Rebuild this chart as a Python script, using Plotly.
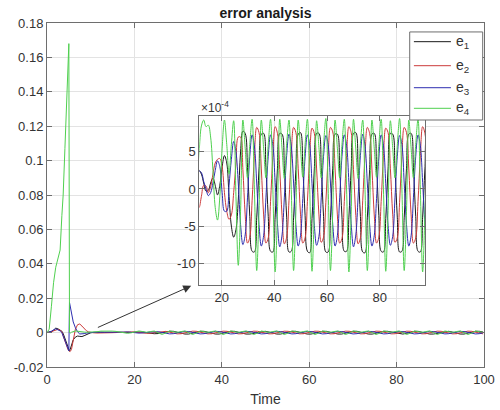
import plotly.graph_objects as go

# ---------------- data ----------------
# early transient (raw units)
t_early = [0.0, 0.5, 1.0, 1.5, 2.0, 2.5, 3.0, 3.4, 3.7, 4.1, 4.5, 4.8, 5.0, 5.15, 5.3,
           5.6, 6.0, 6.5, 7.0, 7.5, 8.0, 8.5, 9.0, 9.5, 10.0]
e1_early = [0.0, 0.0001, 0.0006, 0.0014, 0.0026, 0.0022, 0.0012, 0.0008, -0.0005, -0.0035,
            -0.0072, -0.0095, -0.0108, -0.0108, -0.0098, -0.0072, -0.0042, -0.0026, -0.002,
            -0.0022, -0.0023, -0.0018, -0.0011, -0.0005, -0.0001]
e2_early = [0.0, 0.0, 0.0004, 0.001, 0.0015, 0.0019, 0.0014, 0.0005, -0.002, -0.005,
            -0.0082, -0.0098, -0.0105, -0.011, -0.011, -0.0098, -0.0045, 0.002, 0.0046,
            0.005, 0.0038, 0.0022, 0.0011, 0.0004, 0.0001]
e3_early = [0.0, 0.0002, 0.0008, 0.0016, 0.0022, 0.0016, 0.001, 0.0, -0.002, -0.005,
            -0.0078, -0.0095, -0.0106, 0.0175, 0.0155, 0.0105, 0.0062, 0.0028, 0.0004,
            -0.0008, -0.0009, -0.0006, -0.0003, -0.0001, 0.0]
e4_early = [0.0, 0.002, 0.015, 0.029, 0.038, 0.043, 0.048, 0.068, 0.080, 0.107, 0.134,
            0.154, 0.168, 0.0, -0.0003, 0.0002, 0.0006, 0.001, 0.0008, 0.0005, 0.0004,
            0.0003, 0.0002, 0.0002, 0.0001]

# oscillating part (values in units of 1e-4)
t_osc = [10.55, 11.425, 12.3, 13.175, 14.05, 14.925, 15.8, 16.675, 17.55, 18.425, 19.3,
         20.175, 21.05, 21.925, 22.8, 23.675, 24.55, 25.425, 26.3, 27.175, 28.05, 28.925,
         29.8, 30.675, 31.55, 32.425,
         33.3, 34.175, 35.05, 35.925, 36.8, 37.675, 38.55, 39.425,
         40.3, 41.175, 42.05, 42.925, 43.8, 44.675, 45.55, 46.425,
         47.3, 48.175, 49.05, 49.925, 50.8, 51.675, 52.55, 53.425,
         54.3, 55.175, 56.05, 56.925, 57.8, 58.675, 59.55, 60.425,
         61.3, 62.175, 63.05, 63.925, 64.8, 65.675, 66.55, 67.425,
         68.3, 69.175, 70.05, 70.925, 71.8, 72.675, 73.55, 74.425,
         75.3, 76.175, 77.05, 77.925, 78.8, 79.675, 80.55, 81.425,
         82.3, 83.175, 84.05, 84.925, 85.8, 86.675, 87.55, 88.425,
         89.3, 90.175, 91.05, 91.925, 92.8, 93.675, 94.55, 95.425,
         96.3, 97.175, 98.05, 98.925, 99.8]
e1_osc = [1.0, 2.5, 2.0, 0.8, -0.3, -0.2, 0.8, 1.5, 0.5, -0.8, 0.5, 3.0, 4.5, 3.5, -1.0,
          -5.0, -6.5, -5.5, -1.5, 5.0, 7.8, 7.5, 2.9, -3.7, -8.4, -8.5,
          -3.9, 2.7, 7.4, 7.5, 2.9, -3.7, -8.4, -8.5,
          -3.8, 2.8, 7.5, 7.4, 2.8, -3.8, -8.5, -8.4,
          -3.9, 2.6, 7.4, 7.6, 3.0, -3.6, -8.4, -8.6,
          -4.0, 2.7, 7.5, 7.5, 2.9, -3.7, -8.5, -8.5,
          -3.9, 2.8, 7.4, 7.4, 2.8, -3.8, -8.4, -8.4,
          -3.8, 2.7, 7.5, 7.6, 2.9, -3.7, -8.5, -8.6,
          -3.9, 2.6, 7.4, 7.5, 3.0, -3.6, -8.4, -8.5,
          -4.0, 2.7, 7.5, 7.4, 2.8, -3.8, -8.5, -8.4,
          -3.9, 2.8, 7.4, 7.5, 2.9, -3.7, -8.4, -8.5,
          -3.8, 2.7, 7.5, 7.5, 2.9]
e2_osc = [-1.0, -2.5, -1.0, 0.5, 0.4, -0.5, 0.3, 2.0, 3.5, 4.0, 4.1, 3.0, -0.5, -3.0, -4.1,
          -3.5, -0.5, 3.5, 7.0, 7.0, 2.6, -3.5, -7.3, -6.5, -1.6, 4.5,
          8.3, 7.6, 2.7, -3.5, -7.3, -6.6, -1.7, 4.5,
          8.4, 7.5, 2.6, -3.6, -7.4, -6.5, -1.6, 4.6,
          8.3, 7.6, 2.8, -3.4, -7.3, -6.6, -1.7, 4.5,
          8.2, 7.5, 2.7, -3.5, -7.2, -6.5, -1.8, 4.4,
          8.3, 7.7, 2.7, -3.5, -7.3, -6.7, -1.7, 4.5,
          8.4, 7.6, 2.6, -3.6, -7.4, -6.6, -1.6, 4.6,
          8.3, 7.5, 2.7, -3.5, -7.3, -6.5, -1.7, 4.5,
          8.2, 7.6, 2.8, -3.4, -7.2, -6.6, -1.8, 4.4,
          8.3, 7.6, 2.7, -3.5, -7.3, -6.6, -1.7, 4.5,
          8.4, 7.5, 2.6, -3.6, -7.4]
e3_osc = [1.0, 2.4, 2.2, 1.0, 0.0, -0.9, -0.5, 0.8, 2.5, 3.8, 3.0, -0.5, -3.0, -3.0, 0.5,
          4.0, 6.4, 5.0, 0.8, -4.8, -7.5, -6.2, -1.2, 4.4, 7.3, 5.8,
          0.8, -4.8, -7.7, -6.3, -1.2, 4.4, 7.3, 5.9,
          0.9, -4.7, -7.8, -6.2, -1.1, 4.5, 7.4, 5.8,
          0.8, -4.8, -7.7, -6.3, -1.3, 4.3, 7.3, 5.9,
          0.7, -4.9, -7.6, -6.4, -1.2, 4.4, 7.2, 6.0,
          0.8, -4.8, -7.7, -6.3, -1.2, 4.4, 7.3, 5.9,
          0.9, -4.7, -7.8, -6.2, -1.1, 4.5, 7.4, 5.8,
          0.8, -4.8, -7.7, -6.3, -1.3, 4.3, 7.3, 5.9,
          0.7, -4.9, -7.6, -6.4, -1.2, 4.4, 7.2, 6.0,
          0.8, -4.8, -7.7, -6.3, -1.2, 4.4, 7.3, 5.9,
          0.9, -4.7, -7.8, -6.2, -1.1]
e4_osc = [1.5, 5.0, 8.5, 9.3, 8.4, 8.6, 7.0, 2.5, -2.5, -4.2, -1.0, 5.5, 9.3, 6.0, 2.0,
          6.0, 9.2, -1.0, -10.3, -3.0, 9.3, 5.5, 1.5, 6.0, 9.4, 0.0,
          -11.0, -3.0, 9.3, 5.5, 1.5, 6.0, 9.4, 0.0,
          -11.2, -3.1, 9.4, 5.4, 1.4, 6.1, 9.3, -0.1,
          -11.0, -3.0, 9.3, 5.5, 1.6, 6.0, 9.4, 0.0,
          -11.1, -2.9, 9.2, 5.6, 1.5, 5.9, 9.5, 0.1,
          -11.0, -3.0, 9.3, 5.5, 1.5, 6.0, 9.4, 0.0,
          -11.2, -3.1, 9.4, 5.4, 1.4, 6.1, 9.3, -0.1,
          -11.0, -3.0, 9.3, 5.5, 1.6, 6.0, 9.4, 0.0,
          -11.1, -2.9, 9.2, 5.6, 1.5, 5.9, 9.5, 0.1,
          -11.0, -3.0, 9.3, 5.5, 1.5, 6.0, 9.4, 0.0,
          -11.2, -3.1, 9.4, 5.4, 1.4]

series_names = ["e<sub>1</sub>", "e<sub>2</sub>", "e<sub>3</sub>", "e<sub>4</sub>"]
series_colors = ["#1a1a1a", "#cc3b3b", "#2e2eb0", "#4fd04f"]

main_xticks = [0, 20, 40, 60, 80, 100]
main_yticks = [-0.02, 0, 0.02, 0.04, 0.06, 0.08, 0.1, 0.12, 0.14, 0.16, 0.18]
main_yticktext = ["-0.02", "0", "0.02", "0.04", "0.06", "0.08", "0.1", "0.12", "0.14",
                  "0.16", "0.18"]
inset_xticks = [20, 40, 60, 80]
inset_yticks = [-10, -5, 0, 5]
inset_yticktext = ["-10", "-5", "0", "5"]
SCALE = 1e-4

# ---------------- build ----------------
t_all = t_early + t_osc
early = [e1_early, e2_early, e3_early, e4_early]
osc = [e1_osc, e2_osc, e3_osc, e4_osc]

fig = go.Figure()
FONT = "Liberation Sans, Arial, sans-serif"

for name, col, ee, oo in zip(series_names, series_colors, early, osc):
    y_all = ee + [v * SCALE for v in oo]
    fig.add_trace(go.Scatter(x=t_all, y=y_all, mode="lines", name=name,
                             line=dict(color=col, width=1), showlegend=False,
                             xaxis="x", yaxis="y"))
for name, col, ee, oo in zip(series_names, series_colors, early, osc):
    y_all = ee + [v * SCALE for v in oo]
    fig.add_trace(go.Scatter(x=t_all, y=[v / SCALE for v in y_all], mode="lines",
                             name=name, line=dict(color=col, width=1, shape="spline",
                                                  smoothing=1.0),
                             showlegend=False, xaxis="x2", yaxis="y2"))

axis_common = dict(showline=True, mirror="ticks", linecolor="#6e6e6e", linewidth=1,
                   ticks="inside", ticklen=5, tickcolor="#6e6e6e", automargin=False,
                   showgrid=True, gridcolor="#e3e3e3", gridwidth=1, zeroline=False,
                   tickfont=dict(family=FONT, size=13, color="#333333"))

fig.update_layout(
    width=500, height=410,
    margin=dict(l=47, r=16, t=23, b=43, autoexpand=False),
    paper_bgcolor="white", plot_bgcolor="white",
    font=dict(family=FONT, size=13, color="#333333"),
    title=dict(text="<b>error analysis</b>", x=0.531, xanchor="center", y=0.968,
               yanchor="middle", font=dict(family=FONT, size=14, color="#1a1a1a")),
    xaxis=dict(range=[0, 100], tickvals=main_xticks, domain=[0, 1],
               title=dict(text="Time", font=dict(family=FONT, size=14, color="#333333"),
                          standoff=8),
               **axis_common),
    yaxis=dict(range=[-0.02, 0.18], tickvals=main_yticks, ticktext=main_yticktext,
               domain=[0, 1], **axis_common),
    xaxis2=dict(range=[11.5, 97.2], tickvals=inset_xticks, domain=[0.3485, 0.865],
                anchor="y2", **axis_common),
    yaxis2=dict(range=[-12.95, 9.8], tickvals=inset_yticks, ticktext=inset_yticktext,
                domain=[0.2384, 0.7288], anchor="x2", **axis_common),
    showlegend=False,
)

# white background for inset
fig.add_shape(type="rect", xref="x2 domain", yref="y2 domain", x0=0, x1=1, y0=0, y1=1,
              fillcolor="white", line=dict(width=0), layer="below")

# x10^-4 label
fig.add_annotation(xref="x2 domain", yref="y2 domain", x=0.0, y=1.0, xanchor="left",
                   yanchor="bottom", text="×10<sup>-4</sup>", showarrow=False,
                   font=dict(family=FONT, size=12, color="#333333"), yshift=-1)

# arrow
fig.add_annotation(x=33.0, y=0.0272, ax=11.3, ay=0.0026, xref="x", yref="y",
                   axref="x", ayref="y", text="", showarrow=True, arrowhead=2,
                   arrowsize=1.6, arrowwidth=1, arrowcolor="#333333")

# manual legend box
lx0, lx1, ly0, ly1 = 0.830, 0.997, 0.718, 0.974
fig.add_shape(type="rect", xref="paper", yref="paper", x0=lx0, x1=lx1, y0=ly0, y1=ly1,
              fillcolor="white", line=dict(color="#6e6e6e", width=1), layer="above")
legend_y = [0.9457, 0.8759, 0.8119, 0.7520]
for name, col, yy in zip(series_names, series_colors, legend_y):
    fig.add_shape(type="line", xref="paper", yref="paper", x0=0.8396, x1=0.9243,
                  y0=yy, y1=yy, line=dict(color=col, width=1), layer="above")
    fig.add_annotation(xref="paper", yref="paper", x=0.931, y=yy, xanchor="left",
                       yanchor="middle", text=name, showarrow=False,
                       font=dict(family=FONT, size=14, color="#333333"))

fig.write_html("out.html")
